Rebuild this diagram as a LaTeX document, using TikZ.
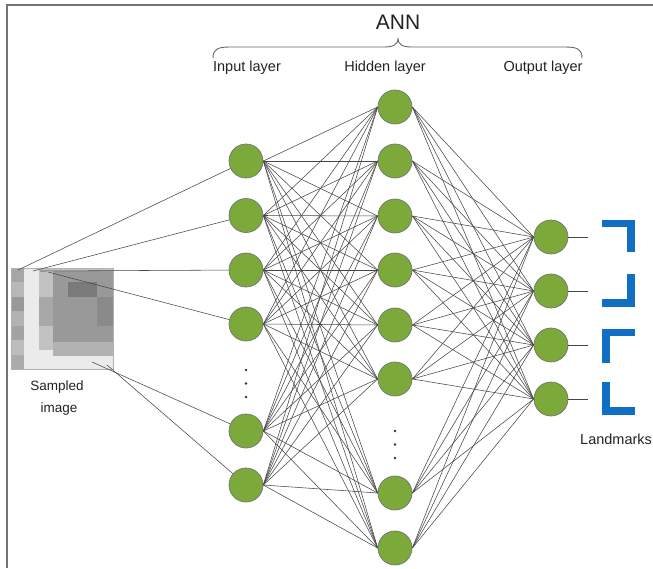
\documentclass[tikz,border=0pt]{standalone}
\usepackage{fontspec}
\setmainfont{Liberation Sans}
\definecolor{nodegreen}{RGB}{124,170,58}
\definecolor{lmblue}{RGB}{16,110,196}
\definecolor{txt}{RGB}{35,35,35}
\begin{document}
\begin{tikzpicture}[x=1pt,y=-1pt,
  neuron/.style={circle,minimum size=34pt,inner sep=0pt,fill=nodegreen,draw=black!55,line width=0.7pt},
  conn/.style={draw=black!72,line width=0.55pt},
  dotmark/.style={circle,fill=black!80,inner sep=0pt,minimum size=2.6pt},
  lmark/.style={draw=lmblue,line width=7.5pt,line cap=butt,line join=miter},
  lbl/.style={text=txt,inner sep=0pt}]
\useasboundingbox (0,0) rectangle (653,568);
\fill[white] (0,0) rectangle (653,568);
% frame
\draw[black!55,line width=2pt] (7,568) -- (7,5) -- (653,5);

% sampled image
\fill[black!8] (11,268) rectangle (113,369);
\foreach \r/\g in {0/35,1/28,2/40,3/30,4/36,5/26,6/33}{
  \fill[black!\g] (11,268+\r*14.43) rectangle (24,268+\r*14.43+14.43);
}
\fill[black!24] (39,268) rectangle (113,350);
\fill[black!40] (53,271) rectangle (113,342);
\fill[black!30] (53,342) rectangle (113,356);
\fill[black!52] (68,282) rectangle (97,297);
\fill[black!46] (97,297) rectangle (113,326);
\fill[black!34] (39,297) rectangle (53,326);
\draw[black!30,line width=0.6pt] (11,268) rectangle (113,369);
\coordinate (s1) at (18,270);
\coordinate (s2) at (33,271);
\coordinate (s3) at (40,271);
\coordinate (s4) at (48,272);
\coordinate (s5) at (92,362);
\coordinate (s6) at (107,365);
\node[lbl,font=\fontsize{13.5}{15}\selectfont] (samp) at (57,387) {Sampled};
\node[lbl,font=\fontsize{13.5}{15}\selectfont] (imgl) at (59,409) {image};

% nodes
\foreach \i/\y in {1/161,2/215.5,3/270,4/324,5/431,6/485}{
  \node[neuron] (in\i) at (246,\y) {};
}
\foreach \i/\y in {1/107,2/161,3/216,4/270,5/325,6/379,7/493,8/548}{
  \node[neuron] (h\i) at (395,\y) {};
}
\foreach \i/\y in {1/237,2/291,3/345,4/399}{
  \node[neuron] (o\i) at (551,\y) {};
  \coordinate (oe\i) at (588,\y);
}
\foreach \y [count=\k] in {370,383.5,397}{
  \node[dotmark] (di\k) at (246,\y) {};
}
\foreach \y [count=\k] in {431,444.5,458}{
  \node[dotmark] (dh\k) at (395,\y) {};
}

% connections
\foreach \i in {1,...,6}{
  \draw[conn] (s\i) -- (in\i);
  \foreach \j in {1,...,8}{
    \draw[conn] (in\i.east) -- (h\j.west);
  }
}
\foreach \j in {1,...,8}{
  \foreach \k in {1,...,4}{
    \draw[conn] (h\j.east) -- (o\k.west);
  }
}
\foreach \k in {1,...,4}{
  \draw[conn] (o\k.east) -- (oe\k);
}

% landmarks
\draw[lmark] (602,223.5) -- (631,223.5) -- (631,252);
\draw[lmark] (631,274) -- (631,303) -- (602,303);
\draw[lmark] (635,332.5) -- (606,332.5) -- (606,363);
\draw[lmark] (606,382) -- (606,411) -- (635,411);
\node[lbl,anchor=west,font=\fontsize{14.5}{16}\selectfont] (lm) at (580,439) {Landmarks};

% labels and brace
\node[lbl,font=\fontsize{21}{24}\selectfont] (ann) at (398,22) {ANN};
\node[lbl,font=\fontsize{14.5}{16}\selectfont] (il) at (247,68) {Input layer};
\node[lbl,font=\fontsize{14.5}{16}\selectfont] (hl) at (385,68) {Hidden layer};
\node[lbl,font=\fontsize{14.5}{16}\selectfont] (ol) at (543,68) {Output layer};
\draw[black!60,line width=0.9pt] (213,58) .. controls (213,49) and (218,47) .. (230,47) -- (384,47) .. controls (393,47) and (398,45) .. (398,38) .. controls (398,45) and (403,47) .. (412,47) -- (565,47) .. controls (577,47) and (582,49) .. (582,58);
\end{tikzpicture}
\end{document}
